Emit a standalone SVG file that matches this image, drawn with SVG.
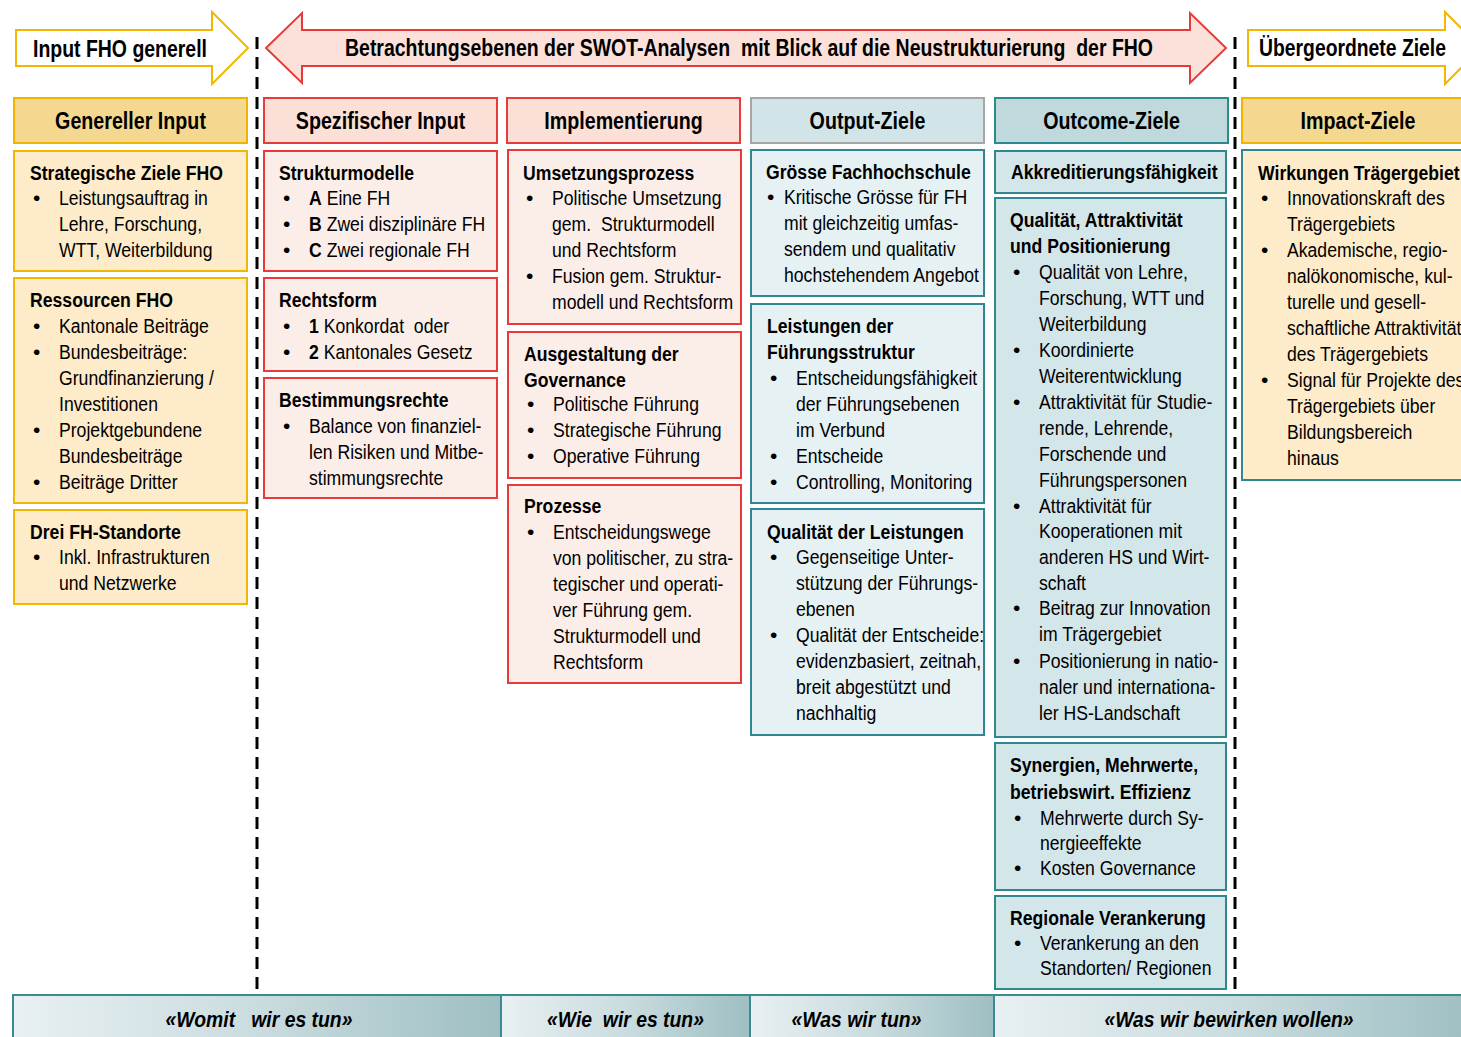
<svg xmlns="http://www.w3.org/2000/svg" width="1461" height="1037" viewBox="0 0 1461 1037">
<style>
text{font-family:"Liberation Sans Narrow","Arial Narrow","Liberation Sans",sans-serif;font-size:21px;fill:#000}
.b{font-weight:bold}
.h{font-size:24px;font-weight:bold;text-anchor:middle}
.a{font-size:24px;font-weight:bold;white-space:pre}
.bt{font-size:22px;font-weight:bold;font-style:italic;text-anchor:middle;white-space:pre}
.pre{white-space:pre}
.y1{fill:#fdebc9;stroke:#f2b705;stroke-width:2}
.r1{fill:#fbeee9;stroke:#e83a3a;stroke-width:2}
.c1{fill:#e6f1f4;stroke:#31878f;stroke-width:2}
.c2{fill:#d3e6ea;stroke:#31878f;stroke-width:2}
.w1{fill:#fdebc9;stroke:#31878f;stroke-width:2}
.dash{stroke:#000;stroke-width:3;stroke-dasharray:12 8;fill:none}
.seg{stroke:#3b8b92;stroke-width:2}
</style>
<defs>
<linearGradient id="g" x1="0" y1="0" x2="1" y2="0">
<stop offset="0" stop-color="#e8f0f2"/>
<stop offset="0.5" stop-color="#cadcdf"/>
<stop offset="1" stop-color="#9ebfc3"/>
</linearGradient>
</defs>

<g id="arrows">
<g id="arrow-input">
<polygon points="16,30 212,30 212,12 248,48 212,84 212,66 16,66" fill="#fff" stroke="#f2b705" stroke-width="2"/>
<text class="a" x="33" y="57" textLength="174" lengthAdjust="spacingAndGlyphs">Input FHO generell</text>
</g>
<g id="arrow-swot">
<polygon points="266,48 302,13 302,30 1190,30 1190,13 1226,48 1190,83 1190,66 302,66 302,83" fill="#fce1da" stroke="#e83a3a" stroke-width="2"/>
<text class="a" x="345" y="56" font-size="23" textLength="808" lengthAdjust="spacingAndGlyphs">Betrachtungsebenen der SWOT-Analysen  mit Blick auf die Neustrukturierung  der FHO</text>
</g>
<g id="arrow-ziele">
<polygon points="1248,30 1445,30 1445,12 1481,48 1445,84 1445,66 1248,66" fill="#fff" stroke="#f2b705" stroke-width="2"/>
<text class="a" x="1259" y="56" font-size="23" textLength="187" lengthAdjust="spacingAndGlyphs">Übergeordnete Ziele</text>
</g>
</g>

<g id="connectors">
<line class="dash" x1="257" y1="37" x2="257" y2="990"/>
<line class="dash" x1="1235" y1="37" x2="1235" y2="990"/>
</g>

<g id="headers">
<g id="h-generell"><rect x="14" y="98" width="233" height="45" fill="#f5d88f" stroke="#f0b300" stroke-width="2"/><text class="h" transform="translate(130.5 129) scale(.82 1)">Genereller Input</text></g>
<g id="h-spezifisch"><rect x="264" y="98" width="233" height="45" fill="#fce0d8" stroke="#e83c3c" stroke-width="2"/><text class="h" transform="translate(380.5 129) scale(.82 1)">Spezifischer Input</text></g>
<g id="h-impl"><rect x="507" y="98" width="233" height="45" fill="#fce0d8" stroke="#e83c3c" stroke-width="2"/><text class="h" transform="translate(623.5 129) scale(.82 1)">Implementierung</text></g>
<g id="h-output"><rect x="751" y="98" width="233" height="45" fill="#d1e5e9" stroke="#a6a6a6" stroke-width="2"/><text class="h" transform="translate(867.5 129) scale(.82 1)">Output-Ziele</text></g>
<g id="h-outcome"><rect x="995" y="98" width="233" height="45" fill="#bfd9dd" stroke="#2b8a91" stroke-width="2"/><text class="h" transform="translate(1111.5 129) scale(.82 1)">Outcome-Ziele</text></g>
<g id="h-impact"><rect x="1242" y="98" width="240" height="45" fill="#f5d88f" stroke="#f0b300" stroke-width="2"/><text class="h" transform="translate(1358 129) scale(.82 1)">Impact-Ziele</text></g>
</g>

<g id="n-strategische">
<rect class="y1" x="14" y="151" width="233" height="120"/>
<text class="b" transform="translate(30 0) scale(.84 1)" x="0" y="180">Strategische Ziele FHO</text>
<text x="33" y="205">•</text>
<text transform="translate(59 0) scale(.84 1)"><tspan x="0" y="205">Leistungsauftrag in</tspan><tspan x="0" y="231">Lehre, Forschung,</tspan><tspan x="0" y="257">WTT, Weiterbildung</tspan></text>
</g>

<g id="n-ressourcen">
<rect class="y1" x="14" y="278" width="233" height="225"/>
<text class="b" transform="translate(30 0) scale(.84 1)" x="0" y="307">Ressourcen FHO</text>
<text><tspan x="33" y="333">•</tspan><tspan x="33" y="359">•</tspan><tspan x="33" y="437">•</tspan><tspan x="33" y="489">•</tspan></text>
<text transform="translate(59 0) scale(.84 1)"><tspan x="0" y="333">Kantonale Beiträge</tspan><tspan x="0" y="359">Bundesbeiträge:</tspan><tspan x="0" y="385">Grundfinanzierung /</tspan><tspan x="0" y="411">Investitionen</tspan><tspan x="0" y="437">Projektgebundene</tspan><tspan x="0" y="463">Bundesbeiträge</tspan><tspan x="0" y="489">Beiträge Dritter</tspan></text>
</g>

<g id="n-standorte">
<rect class="y1" x="14" y="510" width="233" height="94"/>
<text class="b" transform="translate(30 0) scale(.84 1)" x="0" y="539">Drei FH-Standorte</text>
<text x="33" y="564">•</text>
<text transform="translate(59 0) scale(.84 1)"><tspan x="0" y="564">Inkl. Infrastrukturen</tspan><tspan x="0" y="590">und Netzwerke</tspan></text>
</g>

<g id="n-strukturmodelle">
<rect class="r1" x="264" y="151" width="233" height="120"/>
<text class="b" transform="translate(279 0) scale(.84 1)" x="0" y="180">Strukturmodelle</text>
<text><tspan x="283" y="205">•</tspan><tspan x="283" y="231">•</tspan><tspan x="283" y="257">•</tspan></text>
<text transform="translate(309 0) scale(.84 1)"><tspan x="0" y="205"><tspan class="b">A</tspan> Eine FH</tspan><tspan x="0" y="231"><tspan class="b">B</tspan> Zwei disziplinäre FH</tspan><tspan x="0" y="257"><tspan class="b">C</tspan> Zwei regionale FH</tspan></text>
</g>

<g id="n-rechtsform">
<rect class="r1" x="264" y="278" width="233" height="93"/>
<text class="b" transform="translate(279 0) scale(.84 1)" x="0" y="307">Rechtsform</text>
<text><tspan x="283" y="333">•</tspan><tspan x="283" y="359">•</tspan></text>
<text class="pre" transform="translate(309 0) scale(.84 1)"><tspan x="0" y="333"><tspan class="b">1</tspan> Konkordat  oder</tspan><tspan x="0" y="359"><tspan class="b">2</tspan> Kantonales Gesetz</tspan></text>
</g>

<g id="n-bestimmungsrechte">
<rect class="r1" x="264" y="378" width="233" height="120"/>
<text class="b" transform="translate(279 0) scale(.84 1)" x="0" y="407">Bestimmungsrechte</text>
<text x="283" y="433">•</text>
<text transform="translate(309 0) scale(.84 1)"><tspan x="0" y="433">Balance von finanziel-</tspan><tspan x="0" y="459">len Risiken und Mitbe-</tspan><tspan x="0" y="485">stimmungsrechte</tspan></text>
</g>

<g id="n-umsetzung">
<rect class="r1" x="508" y="150" width="233" height="174"/>
<text class="b" transform="translate(523 0) scale(.84 1)" x="0" y="180">Umsetzungsprozess</text>
<text><tspan x="526" y="205">•</tspan><tspan x="526" y="283">•</tspan></text>
<text class="pre" transform="translate(552 0) scale(.84 1)"><tspan x="0" y="205">Politische Umsetzung</tspan><tspan x="0" y="231">gem.  Strukturmodell</tspan><tspan x="0" y="257">und Rechtsform</tspan><tspan x="0" y="283">Fusion gem. Struktur-</tspan><tspan x="0" y="309">modell und Rechtsform</tspan></text>
</g>

<g id="n-governance">
<rect class="r1" x="508" y="332" width="233" height="146"/>
<text class="b" transform="translate(524 0) scale(.84 1)"><tspan x="0" y="361">Ausgestaltung der</tspan><tspan x="0" y="387">Governance</tspan></text>
<text><tspan x="527" y="411">•</tspan><tspan x="527" y="437">•</tspan><tspan x="527" y="463">•</tspan></text>
<text transform="translate(553 0) scale(.84 1)"><tspan x="0" y="411">Politische Führung</tspan><tspan x="0" y="437">Strategische Führung</tspan><tspan x="0" y="463">Operative Führung</tspan></text>
</g>

<g id="n-prozesse">
<rect class="r1" x="508" y="485" width="233" height="198"/>
<text class="b" transform="translate(524 0) scale(.84 1)" x="0" y="513">Prozesse</text>
<text x="527" y="539">•</text>
<text transform="translate(553 0) scale(.84 1)"><tspan x="0" y="539">Entscheidungswege</tspan><tspan x="0" y="565">von politischer, zu stra-</tspan><tspan x="0" y="591">tegischer und operati-</tspan><tspan x="0" y="617">ver Führung gem.</tspan><tspan x="0" y="643">Strukturmodell und</tspan><tspan x="0" y="669">Rechtsform</tspan></text>
</g>

<g id="n-groesse">
<rect class="c1" x="751" y="150" width="233" height="146"/>
<text class="b" transform="translate(766 0) scale(.84 1)" x="0" y="179">Grösse Fachhochschule</text>
<text x="767" y="204">•</text>
<text transform="translate(784 0) scale(.84 1)"><tspan x="0" y="204">Kritische Grösse für FH</tspan><tspan x="0" y="230">mit gleichzeitig umfas-</tspan><tspan x="0" y="256">sendem und qualitativ</tspan><tspan x="0" y="282">hochstehendem Angebot</tspan></text>
</g>

<g id="n-fuehrungsstruktur">
<rect class="c1" x="751" y="304" width="233" height="199"/>
<text class="b" transform="translate(767 0) scale(.84 1)"><tspan x="0" y="333">Leistungen der</tspan><tspan x="0" y="359">Führungsstruktur</tspan></text>
<text><tspan x="770" y="385">•</tspan><tspan x="770" y="463">•</tspan><tspan x="770" y="489">•</tspan></text>
<text transform="translate(796 0) scale(.84 1)"><tspan x="0" y="385">Entscheidungsfähigkeit</tspan><tspan x="0" y="411">der Führungsebenen</tspan><tspan x="0" y="437">im Verbund</tspan><tspan x="0" y="463">Entscheide</tspan><tspan x="0" y="489">Controlling, Monitoring</tspan></text>
</g>

<g id="n-qualitaet-leistungen">
<rect class="c1" x="751" y="509" width="233" height="226"/>
<text class="b" transform="translate(767 0) scale(.84 1)" x="0" y="539">Qualität der Leistungen</text>
<text><tspan x="770" y="564">•</tspan><tspan x="770" y="642">•</tspan></text>
<text transform="translate(796 0) scale(.84 1)"><tspan x="0" y="564">Gegenseitige Unter-</tspan><tspan x="0" y="590">stützung der Führungs-</tspan><tspan x="0" y="616">ebenen</tspan><tspan x="0" y="642">Qualität der Entscheide:</tspan><tspan x="0" y="668">evidenzbasiert, zeitnah,</tspan><tspan x="0" y="694">breit abgestützt und</tspan><tspan x="0" y="720">nachhaltig</tspan></text>
</g>

<g id="n-akkreditierung">
<rect class="c2" x="995" y="151" width="231" height="42"/>
<text class="b" transform="translate(1011 0) scale(.84 1)" x="0" y="179">Akkreditierungsfähigkeit</text>
</g>

<g id="n-qualitaet-attraktivitaet">
<rect class="c2" x="995" y="198" width="231" height="539"/>
<text class="b" transform="translate(1010 0) scale(.84 1)"><tspan x="0" y="227">Qualität, Attraktivität</tspan><tspan x="0" y="253">und Positionierung</tspan></text>
<text><tspan x="1013" y="279">•</tspan><tspan x="1013" y="357">•</tspan><tspan x="1013" y="409">•</tspan><tspan x="1013" y="513">•</tspan><tspan x="1013" y="615">•</tspan><tspan x="1013" y="668">•</tspan></text>
<text transform="translate(1039 0) scale(.84 1)"><tspan x="0" y="279">Qualität von Lehre,</tspan><tspan x="0" y="305">Forschung, WTT und</tspan><tspan x="0" y="331">Weiterbildung</tspan><tspan x="0" y="357">Koordinierte</tspan><tspan x="0" y="383">Weiterentwicklung</tspan><tspan x="0" y="409">Attraktivität für Studie-</tspan><tspan x="0" y="435">rende, Lehrende,</tspan><tspan x="0" y="461">Forschende und</tspan><tspan x="0" y="487">Führungspersonen</tspan><tspan x="0" y="513">Attraktivität für</tspan><tspan x="0" y="538">Kooperationen mit</tspan><tspan x="0" y="564">anderen HS und Wirt-</tspan><tspan x="0" y="590">schaft</tspan><tspan x="0" y="615">Beitrag zur Innovation</tspan><tspan x="0" y="641">im Trägergebiet</tspan><tspan x="0" y="668">Positionierung in natio-</tspan><tspan x="0" y="694">naler und internationa-</tspan><tspan x="0" y="720">ler HS-Landschaft</tspan></text>
</g>

<g id="n-synergien">
<rect class="c2" x="995" y="743" width="231" height="147"/>
<text class="b" transform="translate(1010 0) scale(.84 1)"><tspan x="0" y="772">Synergien, Mehrwerte,</tspan><tspan x="0" y="799">betriebswirt. Effizienz</tspan></text>
<text><tspan x="1014" y="825">•</tspan><tspan x="1014" y="875">•</tspan></text>
<text transform="translate(1040 0) scale(.84 1)"><tspan x="0" y="825">Mehrwerte durch Sy-</tspan><tspan x="0" y="850">nergieeffekte</tspan><tspan x="0" y="875">Kosten Governance</tspan></text>
</g>

<g id="n-regional">
<rect class="c2" x="995" y="896" width="231" height="93"/>
<text class="b" transform="translate(1010 0) scale(.84 1)" x="0" y="925">Regionale Verankerung</text>
<text x="1014" y="950">•</text>
<text transform="translate(1040 0) scale(.84 1)"><tspan x="0" y="950">Verankerung an den</tspan><tspan x="0" y="975">Standorten/ Regionen</tspan></text>
</g>

<g id="n-wirkungen">
<rect class="w1" x="1242" y="150" width="240" height="330"/>
<text class="b" transform="translate(1258 0) scale(.84 1)" x="0" y="180">Wirkungen Trägergebiet</text>
<text><tspan x="1261" y="205">•</tspan><tspan x="1261" y="257">•</tspan><tspan x="1261" y="387">•</tspan></text>
<text transform="translate(1287 0) scale(.84 1)"><tspan x="0" y="205">Innovationskraft des</tspan><tspan x="0" y="231">Trägergebiets</tspan><tspan x="0" y="257">Akademische, regio-</tspan><tspan x="0" y="283">nalökonomische, kul-</tspan><tspan x="0" y="309">turelle und gesell-</tspan><tspan x="0" y="335">schaftliche Attraktivität</tspan><tspan x="0" y="361">des Trägergebiets</tspan><tspan x="0" y="387">Signal für Projekte des</tspan><tspan x="0" y="413">Trägergebiets über</tspan><tspan x="0" y="439">Bildungsbereich</tspan><tspan x="0" y="465">hinaus</tspan></text>
</g>

<g id="bottom-bar">
<rect class="seg" x="13" y="995" width="488" height="50" fill="url(#g)"/>
<rect class="seg" x="501" y="995" width="249" height="50" fill="url(#g)"/>
<rect class="seg" x="750" y="995" width="244" height="50" fill="url(#g)"/>
<rect class="seg" x="994" y="995" width="480" height="50" fill="url(#g)"/>
<text class="bt" transform="translate(259 1027) scale(.88 1)">«Womit   wir es tun»</text>
<text class="bt" transform="translate(625.5 1027) scale(.88 1)">«Wie  wir es tun»</text>
<text class="bt" transform="translate(856.5 1027) scale(.88 1)">«Was wir tun»</text>
<text class="bt" transform="translate(1229 1027) scale(.88 1)">«Was wir bewirken wollen»</text>
</g>
</svg>
